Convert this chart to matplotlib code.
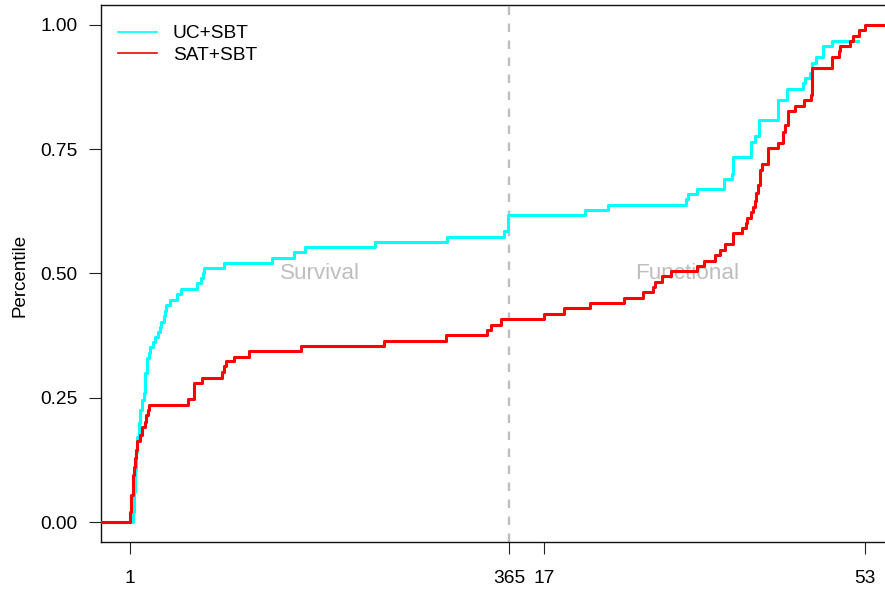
import numpy as np
import matplotlib
matplotlib.use("Agg")
import matplotlib.pyplot as plt
from matplotlib.lines import Line2D

plt.rcParams['font.family'] = ['Liberation Sans', 'DejaVu Sans']

# survival part: day of death, cumulative percentile
uc_surv_days = [4, 5, 6, 7, 8, 10, 11, 12, 14, 15, 17, 19, 20, 23, 25, 28, 30, 31, 34, 35,
                36, 39, 46, 50, 65, 69, 71, 72, 91, 137, 158, 169, 236, 305, 360, 364]
uc_surv_pct = [0.02, 0.06, 0.105, 0.14, 0.172, 0.20, 0.225, 0.245, 0.259, 0.299,
               0.329, 0.34, 0.353, 0.362, 0.372, 0.383, 0.393, 0.403, 0.415, 0.425,
               0.437, 0.447, 0.458, 0.468, 0.48, 0.49, 0.50, 0.511, 0.521, 0.532,
               0.543, 0.553, 0.563, 0.574, 0.586, 0.617]

sat_surv_days = [1, 2, 4, 5, 6, 7, 8, 11, 12, 15, 16, 18, 19,
                 57, 62, 70, 89, 91, 93, 101, 115, 165, 245, 304, 344, 348, 357]
sat_surv_pct = [0.02, 0.054, 0.095, 0.11, 0.129, 0.145, 0.162, 0.175, 0.192, 0.202,
                0.215, 0.225, 0.235, 0.247, 0.279, 0.289, 0.302, 0.313, 0.323, 0.333,
                0.344, 0.355, 0.365, 0.376, 0.386, 0.396, 0.408]

# functional part: score among survivors, cumulative percentile
uc_func_score = [21.6, 24.2, 32.9, 33.2, 34.2, 37.2, 38.1, 38.2, 40.2, 40.7,
                 41.1, 43.2, 44.3, 46.0, 46.3, 46.8, 47.1, 47.5, 48.3, 49.3, 52.2]
uc_func_pct = [0.628, 0.638, 0.649, 0.659, 0.670, 0.691, 0.70, 0.735, 0.765, 0.777,
               0.809, 0.849, 0.871, 0.883, 0.894, 0.904, 0.924, 0.935, 0.958, 0.968, 0.968]

sat_func_score = [17, 19.2, 22.2, 26.0, 28.1, 29.2, 29.4, 30.2, 31.2, 34.2,
                  34.9, 36.2, 36.7, 37.3, 38.2, 39.2, 39.7, 39.8, 40.2, 40.4,
                  40.7, 40.8, 41.0, 41.2, 41.5, 42.1, 43.2, 43.8, 44.0, 44.4,
                  45.1, 46.2, 46.9, 47.1, 49.3, 50.1, 50.2, 51.3, 51.6, 52.3, 53]
sat_func_pct = [0.419, 0.430, 0.441, 0.451, 0.462, 0.473, 0.483, 0.494, 0.505, 0.515,
                0.526, 0.537, 0.548, 0.559, 0.581, 0.591, 0.601, 0.611, 0.623, 0.634,
                0.645, 0.661, 0.678, 0.708, 0.72, 0.752, 0.763, 0.785, 0.799, 0.826,
                0.837, 0.849, 0.859, 0.913, 0.935, 0.947, 0.958, 0.968, 0.978, 0.989, 1.0]

groups = ["UC+SBT", "SAT+SBT"]
colors = ["#00FFFF", "#FF0000"]

DAY_MAX = 365
FUNC_MIN, FUNC_MAX = 17, 53
GAP = 33.6      # space between the day scale and the score scale
SCALE = 8.564   # axis units per score point


def func_x(f):
    return DAY_MAX + GAP + (np.asarray(f, dtype=float) - FUNC_MIN) * SCALE


xmin, xmax = -26.9, 726.1

fig = plt.figure(figsize=(8.85, 5.89), dpi=100)
ax = fig.add_axes([101 / 885, 47 / 589, 784 / 885, 537 / 589])


def composite(days, dpct, scores, fpct, extend_right):
    x = np.concatenate([[xmin], days, func_x(scores)])
    y = np.concatenate([[0.0], dpct, fpct])
    if extend_right:
        x = np.append(x, xmax)
        y = np.append(y, y[-1])
    return x, y


x_uc, y_uc = composite(uc_surv_days, uc_surv_pct, uc_func_score, uc_func_pct, False)
x_sat, y_sat = composite(sat_surv_days, sat_surv_pct, sat_func_score, sat_func_pct, True)

ax.step(x_uc, y_uc, where="post", color=colors[0], lw=2.2, zorder=3)
ax.step(x_sat, y_sat, where="post", color=colors[1], lw=2.2, zorder=4)

ax.axvline(DAY_MAX, color="#BEBEBE", lw=1.7, dashes=(3.6, 3.6), zorder=2)

ax.text((1 + DAY_MAX) / 2, 0.5, "Survival", color="#BEBEBE", fontsize=16.2,
        ha="center", va="center")
ax.text((DAY_MAX + func_x(FUNC_MAX)) / 2, 0.5, "Functional", color="#BEBEBE",
        fontsize=16.2, ha="center", va="center")

ax.set_xlim(xmin, xmax)
ax.set_ylim(-0.0402, 1.0402)

ax.set_xticks([1, DAY_MAX, func_x(FUNC_MIN), func_x(FUNC_MAX)])
ax.set_xticklabels(["1", "365", "17", "53"])
ax.set_yticks([0, 0.25, 0.5, 0.75, 1.0])
ax.set_yticklabels(["0.00", "0.25", "0.50", "0.75", "1.00"])
ax.tick_params(axis="both", length=8.6, width=0.8, labelsize=13.8, color="#222222")
ax.tick_params(axis="x", pad=11.5)
ax.tick_params(axis="y", pad=8.5)

for side in ["left", "bottom", "top"]:
    ax.spines[side].set_linewidth(1.0)
    ax.spines[side].set_color("#111111")
ax.spines["right"].set_visible(False)

fig.text(19.5 / 885, 1 - 275 / 589, "Percentile", rotation=90, fontsize=13.5,
         ha="center", va="center")

handles = [Line2D([], [], color=c, lw=1.2) for c in colors]
ax.legend(handles, groups, loc="upper left", frameon=False, fontsize=13.8,
          handlelength=2.0, handletextpad=0.85, labelspacing=0.22,
          bbox_to_anchor=(0.005, 0.988), borderaxespad=0.3)

fig.savefig("out.png", dpi=100)
